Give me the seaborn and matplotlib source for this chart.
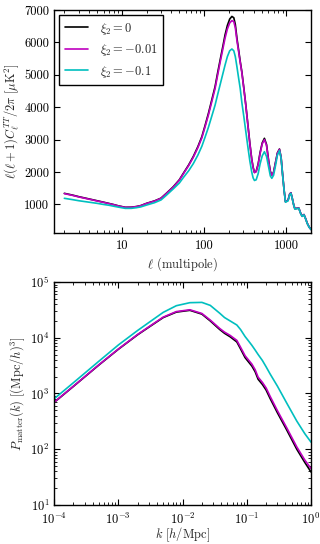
import numpy as np
import pandas as pd
import matplotlib
matplotlib.use("Agg")
import matplotlib.pyplot as plt
import matplotlib.ticker as mticker
import seaborn as sns

# ---------------- data ----------------
series_names = [r"$\xi_2 = 0$", r"$\xi_2 = -0.01$", r"$\xi_2 = -0.1$"]
series_colors = ["#000000", "#bf00bf", "#00bfbf"]

ell = [2, 2.5, 3, 4, 5, 6, 7, 8, 9, 11, 13, 15, 17, 20, 25, 30, 35, 42, 50, 56, 65, 74,
       84, 94, 103, 113, 124, 136, 146, 157, 170, 180, 192, 205, 218, 230, 240, 251, 262,
       275, 288, 305, 322, 340, 360, 380, 395, 410, 430, 455, 480, 510, 542, 575, 610,
       640, 667, 700, 740, 780, 826, 865, 900, 940, 977, 1050, 1100, 1138, 1180, 1230,
       1271, 1340, 1420, 1500, 1560, 1640, 1720, 1800, 1900, 2000]

cl_xi0 = [1343, 1290, 1240, 1170, 1115, 1070, 1030, 995, 960, 912, 915, 935, 965, 1035,
          1110, 1195, 1350, 1540, 1760, 1960, 2220, 2480, 2780, 3090, 3440, 3810, 4220,
          4630, 5050, 5460, 5900, 6230, 6520, 6720, 6800, 6760, 6550, 6130, 5800, 5420,
          5096, 4580, 4070, 3500, 2900, 2400, 2150, 1990, 2020, 2250, 2600, 2900, 3040,
          2850, 2350, 2020, 1908, 1990, 2300, 2590, 2710, 2450, 1950, 1450, 1084, 1130,
          1320, 1362, 1200, 990, 870, 880, 890, 720, 640, 690, 560, 420, 300, 230]

cl_xi001 = [1335, 1282, 1232, 1163, 1108, 1064, 1025, 990, 956, 909, 912, 932, 962, 1030,
            1104, 1190, 1343, 1530, 1748, 1945, 2200, 2455, 2750, 3055, 3400, 3760, 4165,
            4570, 4980, 5390, 5820, 6130, 6410, 6600, 6670, 6640, 6450, 6060, 5750, 5390,
            5070, 4560, 4050, 3480, 2890, 2390, 2140, 1980, 2010, 2230, 2570, 2870, 3000,
            2820, 2330, 2010, 1900, 1985, 2290, 2580, 2700, 2445, 1948, 1450, 1084, 1130,
            1318, 1360, 1200, 990, 870, 880, 888, 720, 640, 688, 558, 418, 298, 228]

cl_xi01 = [1190, 1150, 1115, 1070, 1035, 1000, 975, 945, 920, 880, 880, 900, 925, 982,
           1055, 1140, 1290, 1475, 1660, 1830, 2040, 2260, 2520, 2795, 3080, 3380, 3720,
           4060, 4380, 4700, 5050, 5300, 5560, 5740, 5796, 5740, 5560, 5250, 4930, 4584,
           4150, 3700, 3250, 2800, 2350, 2000, 1820, 1740, 1760, 1950, 2250, 2500, 2627,
           2480, 2150, 1880, 1806, 1900, 2200, 2520, 2660, 2420, 1930, 1440, 1070, 1110,
           1300, 1345, 1190, 980, 860, 870, 880, 710, 630, 680, 550, 410, 295, 225]

k_vals = [1e-4, 2e-4, 5e-4, 1e-3, 2e-3, 3e-3, 5e-3, 8e-3, 1.3e-2, 2e-2, 2.7e-2, 3.8e-2,
          4.5e-2, 5.5e-2, 7e-2, 8e-2, 9.4e-2, 1.06e-1, 1.2e-1, 1.35e-1, 1.5e-1, 1.75e-1,
          2e-1, 2.3e-1, 3e-1, 4.2e-1, 6e-1, 8e-1, 1.0]

pk_xi0 = [690, 1340, 3250, 6200, 11300, 15500, 23000, 28800, 31000, 26500, 20000, 14000,
          12000, 10400, 8400, 6300, 4400, 3700, 3100, 2450, 1800, 1450, 1150, 820, 450,
          220, 100, 58, 39]

pk_xi001 = [695, 1350, 3280, 6260, 11450, 15750, 23400, 29400, 31700, 27200, 20700, 14600,
            12600, 11000, 8950, 6750, 4750, 4000, 3360, 2660, 1960, 1580, 1255, 895, 490,
            240, 110, 64, 45]

pk_xi01 = [800, 1560, 3800, 7400, 13500, 18800, 28500, 37500, 42500, 43000, 38000, 27400,
           23000, 20000, 16900, 14000, 10500, 8800, 7300, 6000, 5000, 3900, 3000, 2250,
           1350, 667, 320, 190, 134]

# ---------------- style ----------------
sns.set_style("ticks")
FS = 9
plt.rcParams.update({
    "font.family": ["cmr10", "DejaVu Serif"],
    "mathtext.fontset": "cm",
    "axes.unicode_minus": False,
    "axes.formatter.use_mathtext": True,
    "font.size": FS,
    "axes.linewidth": 1.0,
    "axes.edgecolor": "black",
    "xtick.direction": "in",
    "ytick.direction": "in",
    "xtick.top": True,
    "ytick.right": True,
    "xtick.major.size": 4,
    "ytick.major.size": 4,
    "xtick.minor.size": 2,
    "ytick.minor.size": 2,
    "xtick.color": "black",
    "ytick.color": "black",
    "xtick.labelsize": FS,
    "ytick.labelsize": FS,
    "axes.labelsize": FS,
})

fig = plt.figure(figsize=(3.2, 5.44), dpi=100)
ax1 = fig.add_axes([0.169, 0.5717, 0.803, 0.41])
ax2 = fig.add_axes([0.169, 0.0717, 0.803, 0.41])

cmb = pd.DataFrame({
    "ell": ell * 3,
    "D": cl_xi0 + cl_xi001 + cl_xi01,
    "model": sum([[n] * len(ell) for n in series_names], []),
})
pk = pd.DataFrame({
    "k": k_vals * 3,
    "P": pk_xi0 + pk_xi001 + pk_xi01,
    "model": sum([[n] * len(k_vals) for n in series_names], []),
})
pal = dict(zip(series_names, series_colors))

sns.lineplot(data=cmb, x="ell", y="D", hue="model", palette=pal, hue_order=series_names,
             ax=ax1, linewidth=1.2, sort=False, estimator=None)
ax1.set_xscale("log")
ax1.set_xlim(1.5, 2000)
ax1.set_ylim(120, 7000)
ax1.set_xticks([10, 100, 1000])
ax1.xaxis.set_major_formatter(mticker.FixedFormatter(["10", "100", "1000"]))
ax1.xaxis.set_minor_locator(mticker.LogLocator(base=10, subs=np.arange(2, 10), numticks=20))
ax1.xaxis.set_minor_formatter(mticker.NullFormatter())
ax1.set_yticks([1000, 2000, 3000, 4000, 5000, 6000, 7000])
ax1.yaxis.set_major_formatter(mticker.FormatStrFormatter("%d"))
ax1.tick_params(axis="x", pad=5)
ax1.set_xlabel(r"$\ell$ (multipole)", labelpad=2)
ax1.set_ylabel(r"$\ell(\ell+1)C_\ell^{TT}/2\pi\ [\mu\mathrm{K}^2]$", labelpad=2)
leg = ax1.legend(loc="upper left", frameon=True, fancybox=False, fontsize=FS,
                 handlelength=1.9, borderpad=0.45, labelspacing=0.45, handletextpad=0.9,
                 borderaxespad=0.4)
leg.get_frame().set_edgecolor("black")
leg.get_frame().set_linewidth(1.0)
leg.get_frame().set_alpha(1.0)
for line in leg.get_lines():
    line.set_linewidth(1.2)

sns.lineplot(data=pk, x="k", y="P", hue="model", palette=pal, hue_order=series_names,
             ax=ax2, linewidth=1.2, sort=False, estimator=None, legend=False)
ax2.set_xscale("log")
ax2.set_yscale("log")
ax2.set_xlim(1e-4, 1)
ax2.set_ylim(10, 1e5)
ax2.xaxis.set_minor_locator(mticker.LogLocator(base=10, subs=np.arange(2, 10), numticks=20))
ax2.yaxis.set_minor_locator(mticker.LogLocator(base=10, subs=np.arange(2, 10), numticks=20))
ax2.xaxis.set_minor_formatter(mticker.NullFormatter())
ax2.yaxis.set_minor_formatter(mticker.NullFormatter())
ax2.tick_params(axis="x", pad=5)
ax2.set_xlabel(r"$k\ [h/\mathrm{Mpc}]$", labelpad=-1)
ax2.set_ylabel(r"$P_{\rm matter}(k)\ [(\mathrm{Mpc}/h)^3]$", labelpad=2)

for ax in (ax1, ax2):
    for s in ax.spines.values():
        s.set_color("black")
        s.set_linewidth(1.0)
    ax.tick_params(which="both", direction="in", top=True, right=True)

fig.savefig("out.png", dpi=100)
